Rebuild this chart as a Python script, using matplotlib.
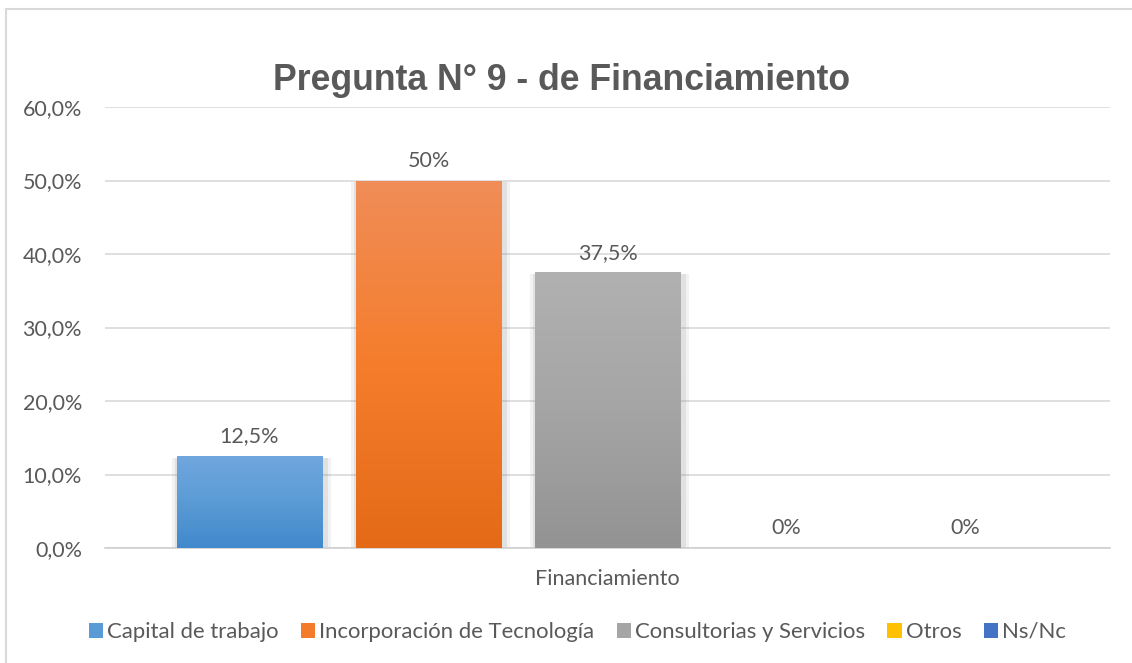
import numpy as np
import matplotlib
matplotlib.use("Agg")
import matplotlib.pyplot as plt
from matplotlib.colors import LinearSegmentedColormap
from matplotlib.patches import Patch
from matplotlib.lines import Line2D

plt.rcParams['font.family'] = ['Lato', 'DejaVu Sans']

# data
categoria = 'Financiamiento'
series = ['Capital de trabajo', 'Incorporación de Tecnología',
          'Consultorias y Servicios', 'Otros', 'Ns/Nc']
valores = [12.5, 50.0, 37.5, 0.0, 0.0]
etiquetas = ['12,5%', '50%', '37,5%', '0%', '0%']
y_ticks = [0, 10, 20, 30, 40, 50, 60]
y_labels = ['0,0%', '10,0%', '20,0%', '30,0%', '40,0%', '50,0%', '60,0%']

# gradient colors top -> bottom
gradientes = [
    ['#70a7de', '#5b9bd5', '#4189cc'],
    ['#f08d58', '#f57d2c', '#e46a17'],
    ['#b1b1b1', '#a5a5a5', '#939393'],
    ['#ffd04a', '#ffc000', '#e6ad00'],
    ['#5f87cf', '#4472c4', '#3863b3'],
]
color_legend = ['#5b9bd5', '#f47b2a', '#a5a5a5', '#ffc000', '#4472c4']
gris = '#595959'

fig = plt.figure(figsize=(11.32, 6.63), dpi=100)
ax = fig.add_axes([105 / 1132, 115 / 663, 1005 / 1132, 441 / 663])

n = len(series)
paso = 179 / 1005
ancho = 146 / 1005
xs = [0.5 + (i - (n - 1) / 2) * paso for i in range(n)]

grad = np.linspace(0, 1, 256).reshape(-1, 1)
for i, (x, v) in enumerate(zip(xs, valores)):
    if v > 0:
        # soft shadow
        for k, a in [(0.012, 0.10), (0.007, 0.15)]:
            ax.bar(x + 0.002, v + 0.25, width=ancho + k, bottom=-0.5,
                   color='#808080', alpha=a, zorder=2, linewidth=0)
    b = ax.bar(x, v, width=ancho, color=color_legend[i], zorder=3,
               linewidth=0)[0]
    if v > 0:
        cmap = LinearSegmentedColormap.from_list('g%d' % i, gradientes[i][::-1])
        im = ax.imshow(grad, cmap=cmap, aspect='auto', zorder=4,
                       extent=[x - ancho / 2, x + ancho / 2, 0, v],
                       origin='lower', interpolation='bicubic')
        im.set_clip_path(b)
    ax.text(x, v + 1.3, etiquetas[i], ha='center', va='bottom',
            fontsize=15.5, color=gris, zorder=5)

ax.set_xlim(0, 1)
ax.set_ylim(0, 60)
ax.set_yticks(y_ticks)
ax.set_yticklabels(y_labels)
ax.set_xticks([0.5])
ax.set_xticklabels([categoria])
ax.tick_params(axis='both', length=0, labelsize=15.5, colors=gris)
ax.tick_params(axis='y', pad=16.5)
ax.tick_params(axis='x', pad=15)
ax.grid(axis='y', color='#d9d9d9', linewidth=1.2, zorder=0)
ax.set_axisbelow(True)
for s in ['top', 'right', 'left']:
    ax.spines[s].set_visible(False)
ax.spines['bottom'].set_color('#d0d0d0')
ax.spines['bottom'].set_linewidth(1.2)
ax.set_facecolor('none')

fig.text(0.496, 1 - 80 / 663, 'Pregunta N° 9 - de Financiamiento',
         ha='center', va='center', fontsize=25.7, fontweight='bold',
         color=gris, family=['Liberation Sans', 'DejaVu Sans'])

handles = [Patch(facecolor=c, edgecolor='none') for c in color_legend]
fig.legend(handles, series, loc='center', bbox_to_anchor=(0.510, 1 - 632 / 663),
           ncol=5, frameon=False, fontsize=15.9, labelcolor=gris,
           handlelength=0.66, handleheight=0.66, handletextpad=0.18,
           columnspacing=1.0)

# chart border
fig.add_artist(Line2D([6 / 1132, 6 / 1132], [0, 1 - 9 / 663],
                      color='#d9d9d9', linewidth=1.5))
fig.add_artist(Line2D([6 / 1132, 1], [1 - 9 / 663, 1 - 9 / 663],
                      color='#d9d9d9', linewidth=1.5))

fig.savefig('out.png', dpi=100)
